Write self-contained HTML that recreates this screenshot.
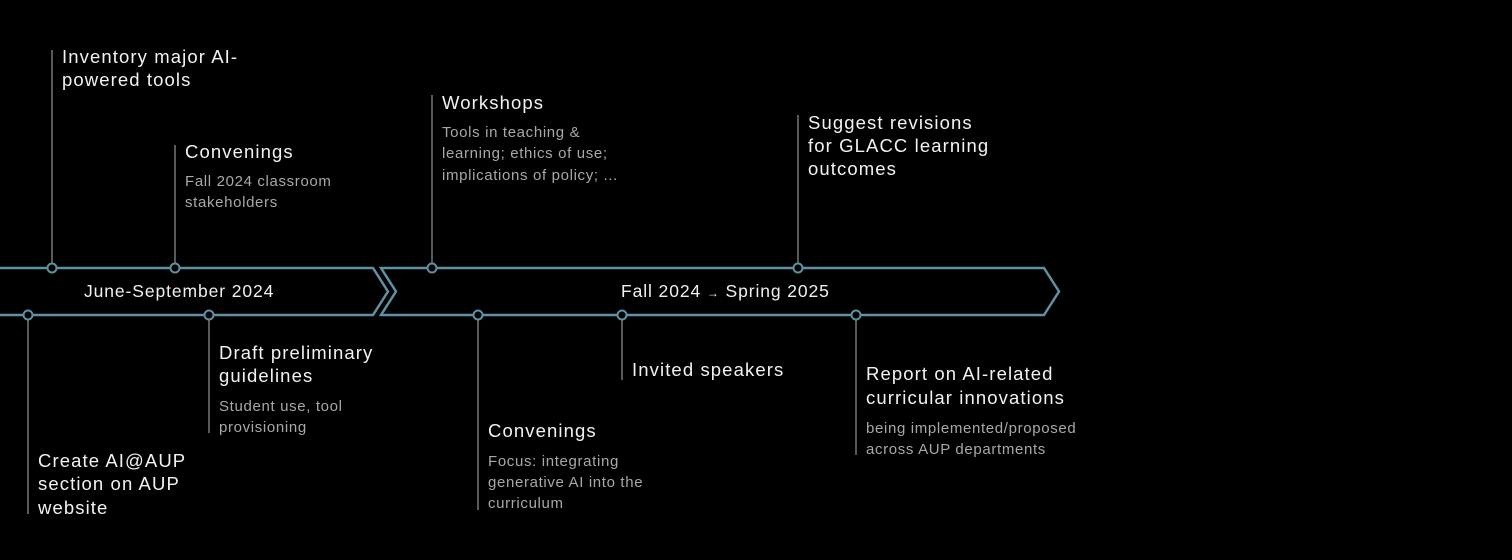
<!DOCTYPE html>
<html><head><meta charset="utf-8"><style>
html,body{margin:0;padding:0;background:#000;}
svg{display:block}
.t{font-family:"Liberation Sans",sans-serif;font-size:18.5px;fill:#f2f2f2;letter-spacing:1.1px}
.s{font-family:"Liberation Sans",sans-serif;font-size:15px;fill:#a8a8a8;letter-spacing:0.65px}
.l{font-family:"Liberation Sans",sans-serif;font-size:17.5px;fill:#f0f0f0;letter-spacing:0.9px}
</style></head><body>
<svg width="1512" height="560" viewBox="0 0 1512 560" xmlns="http://www.w3.org/2000/svg">
<rect width="1512" height="560" fill="#000"/>
<g stroke="#777" stroke-width="1.5">
<line x1="52" y1="50" x2="52" y2="263"/>
<line x1="175" y1="145" x2="175" y2="263"/>
<line x1="432" y1="95" x2="432" y2="263"/>
<line x1="798" y1="115" x2="798" y2="263"/>
<line x1="28" y1="320" x2="28" y2="514"/>
<line x1="209" y1="320" x2="209" y2="433"/>
<line x1="478" y1="320" x2="478" y2="510"/>
<line x1="622" y1="320" x2="622" y2="380"/>
<line x1="856" y1="320" x2="856" y2="455"/>
</g>
<g fill="none" stroke="#5d92a3" stroke-width="2.5" stroke-linejoin="miter">
<polyline points="0,268 373,268 388,291.5 373,315 0,315"/>
<polygon points="381,268 1044,268 1059,291.5 1044,315 381,315 396,291.5"/>
</g>
<g fill="#000" stroke="#5d92a3" stroke-width="2">
<circle cx="52" cy="268" r="4.5"/>
<circle cx="175" cy="268" r="4.5"/>
<circle cx="432" cy="268" r="4.5"/>
<circle cx="798" cy="268" r="4.5"/>
<circle cx="28" cy="315" r="4.5"/>
<circle cx="209" cy="315" r="4.5"/>
<circle cx="478" cy="315" r="4.5"/>
<circle cx="622" cy="315" r="4.5"/>
<circle cx="856" cy="315" r="4.5"/>
</g>
<text class="l" x="84" y="297">June-September 2024</text>
<text class="l" x="621" y="297">Fall 2024 <tspan font-size="12">→</tspan> Spring 2025</text>

<text class="t" x="62" y="63">Inventory major AI-</text>
<text class="t" x="62" y="86">powered tools</text>

<text class="t" x="185" y="158">Convenings</text>
<text class="s" x="185" y="186">Fall 2024 classroom</text>
<text class="s" x="185" y="207">stakeholders</text>

<text class="t" x="442" y="109">Workshops</text>
<text class="s" x="442" y="137">Tools in teaching &amp;</text>
<text class="s" x="442" y="158">learning; ethics of use;</text>
<text class="s" x="442" y="180">implications of policy; ...</text>

<text class="t" x="808" y="129">Suggest revisions</text>
<text class="t" x="808" y="152">for GLACC learning</text>
<text class="t" x="808" y="175">outcomes</text>

<text class="t" x="219" y="359">Draft preliminary</text>
<text class="t" x="219" y="382">guidelines</text>
<text class="s" x="219" y="411">Student use, tool</text>
<text class="s" x="219" y="432">provisioning</text>

<text class="t" x="38" y="467">Create AI@AUP</text>
<text class="t" x="38" y="490">section on AUP</text>
<text class="t" x="38" y="514">website</text>

<text class="t" x="488" y="437">Convenings</text>
<text class="s" x="488" y="466">Focus: integrating</text>
<text class="s" x="488" y="487">generative AI into the</text>
<text class="s" x="488" y="508">curriculum</text>

<text class="t" x="632" y="376">Invited speakers</text>

<text class="t" x="866" y="380">Report on AI-related</text>
<text class="t" x="866" y="404">curricular innovations</text>
<text class="s" x="866" y="433">being implemented/proposed</text>
<text class="s" x="866" y="454">across AUP departments</text>
</svg>
</body></html>
